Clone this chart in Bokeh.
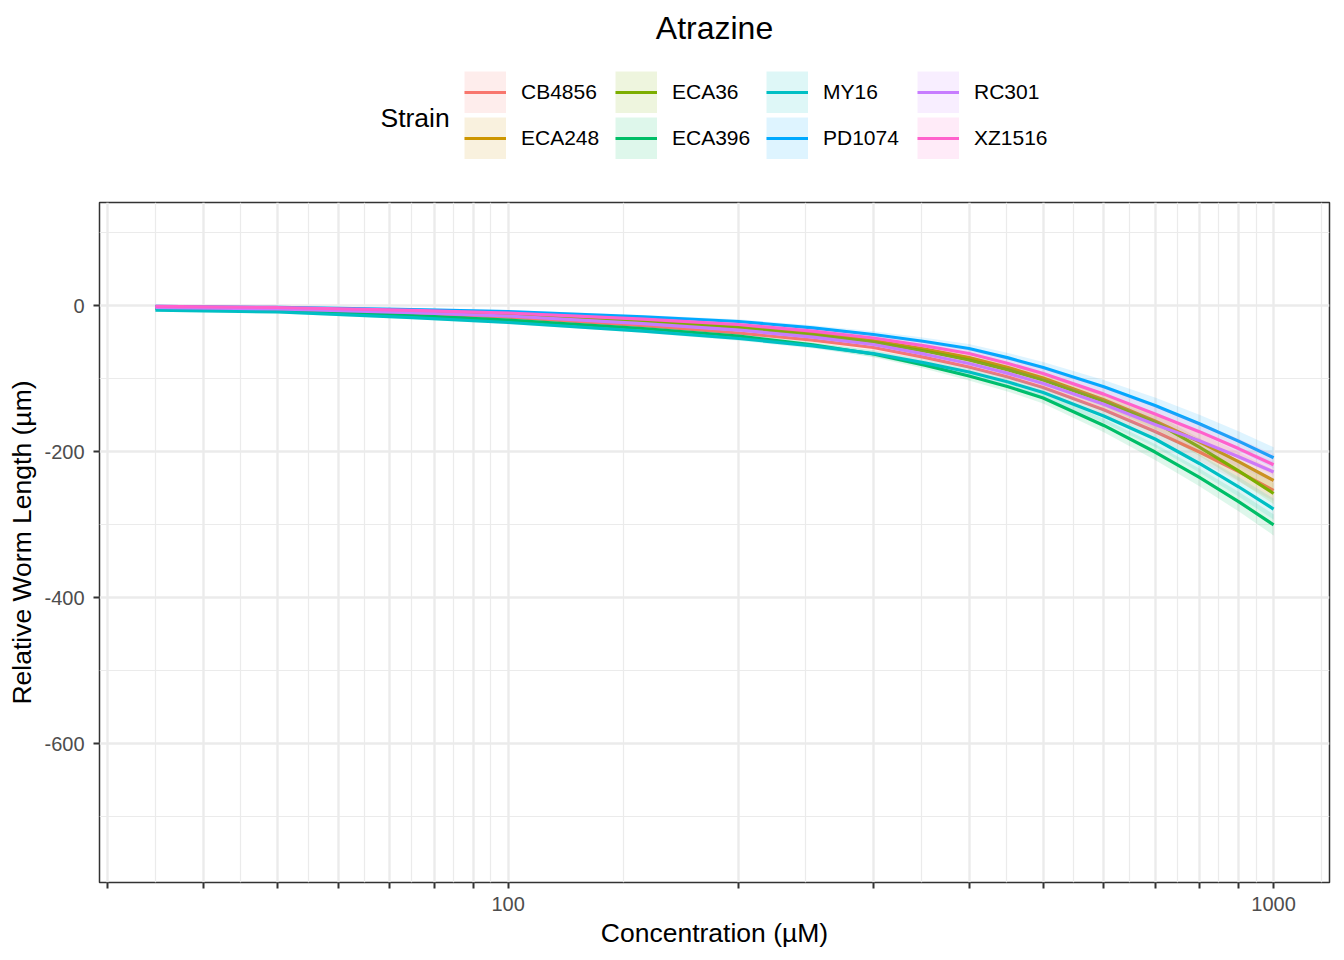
import math
from bokeh.plotting import figure
from bokeh.layouts import column
from bokeh.models import (FixedTicker, BasicTickFormatter, Legend, LegendItem,
                          Label, Range1d)
from bokeh.embed import file_html
from bokeh.resources import INLINE

# ---------------- data ----------------
strains = ["CB4856", "ECA248", "ECA36", "ECA396", "MY16", "PD1074", "RC301", "XZ1516"]
colors = ["#F8766D", "#CD9600", "#7CAE00", "#00BE67", "#00BFC4", "#00A9FF", "#C77CFF", "#FF61CC"]

conc = [34.6, 50, 75, 100, 150, 200, 250, 300, 350, 400, 450, 500, 600, 700, 800, 900, 1000]
cb4856 = [-2.7, -5.5, -11.0, -15.8, -27.6, -37.7, -47.4, -57.5, -71.0, -84.2, -98.0, -112.3, -142.9, -172.6, -200.7, -227.6, -253.4]
eca248 = [-2.1, -4.1, -8.4, -12.3, -21.0, -28.8, -38.1, -47.9, -59.6, -71.2, -85.0, -99.3, -129.2, -158.2, -186.7, -213.8, -239.7]
eca36 = [-2.1, -4.5, -9.0, -13.0, -22.0, -30.1, -39.8, -50.0, -62.4, -74.7, -88.2, -102.1, -131.1, -159.6, -194.0, -226.5, -257.5]
eca396 = [-4.1, -6.8, -13.9, -19.9, -31.5, -41.8, -53.9, -66.4, -81.6, -96.6, -111.3, -126.7, -164.3, -200.7, -235.5, -268.6, -300.4]
my16 = [-6.2, -8.9, -16.7, -23.3, -35.0, -45.2, -55.2, -65.8, -78.5, -91.1, -104.8, -119.2, -151.3, -182.9, -216.4, -248.3, -278.8]
pd1074 = [-1.1, -2.7, -5.5, -8.2, -15.4, -21.9, -30.7, -39.7, -49.3, -58.9, -71.8, -84.9, -111.4, -137.0, -162.0, -185.8, -208.6]
rc301 = [-2.5, -4.8, -9.9, -14.4, -24.7, -33.6, -43.4, -53.4, -66.7, -79.5, -93.0, -106.8, -135.4, -163.0, -185.4, -207.1, -228.1]
xz1516 = [-1.1, -2.7, -6.7, -10.3, -18.6, -26.0, -35.2, -44.5, -55.2, -65.8, -79.4, -93.2, -121.4, -148.6, -172.8, -196.0, -218.2]
ci_half = [2.5, 2.2, 2.0, 2.0, 2.4, 3.0, 3.7, 4.5, 5.2, 6.0, 6.8, 7.5, 9.2, 11.0, 12.2, 13.4, 14.5]

series = [cb4856, eca248, eca36, eca396, my16, pd1074, rc301, xz1516]

x_breaks = [30, 40, 50, 60, 70, 80, 90, 100, 200, 300, 400, 500, 600, 700, 800, 900, 1000]
x_labelled = [100, 1000]
y_breaks = [-600, -400, -200, 0]
y_minor = [-700, -500, -300, -100, 100]
y_limits = [-790.4, 141.1]

title_text = "Atrazine"
legend_title = "Strain"
x_title = "Concentration (\u00b5M)"
y_title = "Relative Worm Length (\u00b5m)"

# ---------------- derived scale helpers ----------------
lmin, lmax = math.log10(min(conc)), math.log10(max(conc))
span = lmax - lmin
x_lo, x_hi = 10 ** (lmin - 0.05 * span), 10 ** (lmax + 0.05 * span)

lb = [math.log10(b) for b in x_breaks]
step = lb[1] - lb[0]
lb_ext = lb + [lb[-1] + step]
x_minor = [10 ** ((a + b) / 2) for a, b in zip(lb_ext[:-1], lb_ext[1:])]

FONT = "Liberation Sans"
W = 1344
HEAD_H = 170
LEFT = 99          # frame offset shared by the aligned column children
BAND_ALPHA = 0.13
KEY = 42

# ---------------- main panel ----------------
p = figure(width=W, height=790, x_axis_type="log",
           x_range=Range1d(x_lo, x_hi), y_range=Range1d(*y_limits),
           output_backend="svg", toolbar_location=None,
           min_border_left=LEFT, min_border_right=15,
           min_border_top=32, min_border_bottom=78)

p.background_fill_color = "white"
p.border_fill_color = "white"
p.outline_line_color = "#333333"
p.outline_line_width = 1.5

for g in (p.xgrid, p.ygrid):
    g.grid_line_color = "#EBEBEB"
    g.grid_line_width = 2.4
    g.minor_grid_line_color = "#EBEBEB"
    g.minor_grid_line_width = 1.2

p.xaxis.ticker = FixedTicker(ticks=x_breaks, minor_ticks=x_minor)
p.xaxis.formatter = BasicTickFormatter()
p.xaxis.major_label_overrides = {b: (str(b) if b in x_labelled else "") for b in x_breaks}
p.yaxis.ticker = FixedTicker(ticks=y_breaks, minor_ticks=y_minor)
p.yaxis.formatter = BasicTickFormatter()
p.yaxis.major_label_overrides = {b: str(b) for b in y_breaks}

for ax in (p.xaxis, p.yaxis):
    ax.axis_line_color = None
    ax.major_tick_line_color = "#333333"
    ax.major_tick_line_width = 2
    ax.major_tick_out = 6
    ax.major_tick_in = 0
    ax.minor_tick_line_color = None
    ax.major_label_text_font = FONT
    ax.major_label_text_font_size = "20px"
    ax.major_label_text_color = "#4D4D4D"
    ax.axis_label_text_font = FONT
    ax.axis_label_text_font_size = "26.5px"
    ax.axis_label_text_font_style = "normal"
    ax.axis_label_text_color = "black"

p.xaxis.axis_label = x_title
p.yaxis.axis_label = y_title
p.xaxis.major_label_standoff = 8
p.yaxis.major_label_standoff = 9
p.xaxis.axis_label_standoff = 4
p.yaxis.axis_label_standoff = 4

for name, col, vals in zip(strains, colors, series):
    lo = [v - h for v, h in zip(vals, ci_half)]
    hi = [v + h for v, h in zip(vals, ci_half)]
    p.varea(x=conc, y1=lo, y2=hi, fill_color=col, fill_alpha=BAND_ALPHA)
    p.line(x=conc, y=vals, line_color=col, line_width=3.2)

# ---------------- header: title + legend ----------------
head = figure(width=W, height=HEAD_H, x_range=Range1d(0, 1), y_range=Range1d(0, 1),
              output_backend="svg", toolbar_location=None, min_border=0,
              min_border_left=0, min_border_right=0, min_border_top=0, min_border_bottom=0,
              x_axis_location=None, y_axis_location=None)
head.outline_line_color = None
head.xgrid.visible = False
head.ygrid.visible = False
head.background_fill_color = "white"
head.border_fill_color = "white"

# legend renderers: same series, lying outside the header's visible range
items = []
for name, col, vals in zip(strains, colors, series):
    r_key = head.line(x=conc, y=vals, line_color=col, line_alpha=BAND_ALPHA,
                      line_width=KEY, line_cap="butt")
    r_line = head.line(x=conc, y=vals, line_color=col, line_width=3.2)
    items.append(LegendItem(label=name, renderers=[r_key, r_line]))

legend = Legend(items=items, orientation="vertical", nrows=2,
                location=(464 - LEFT, HEAD_H - 159), padding=0, margin=0, spacing=4,
                glyph_width=KEY, glyph_height=KEY, label_standoff=15,
                label_width=90, label_text_font=FONT,
                label_text_font_size="21px", label_text_color="black",
                border_line_color=None, background_fill_alpha=0)
head.add_layout(legend)

head.add_layout(Label(x=380 - LEFT, y=HEAD_H - 117, x_units="screen", y_units="screen",
                      text=legend_title, text_font=FONT, text_font_size="26.5px",
                      text_align="left", text_baseline="middle", text_color="black"))
head.add_layout(Label(x=714 - LEFT, y=HEAD_H - 27, x_units="screen", y_units="screen",
                      text=title_text, text_font=FONT, text_font_size="32px",
                      text_align="center", text_baseline="middle", text_color="black"))

layout = column(head, p, spacing=0)
open("out.html", "w").write(file_html(layout, INLINE))
